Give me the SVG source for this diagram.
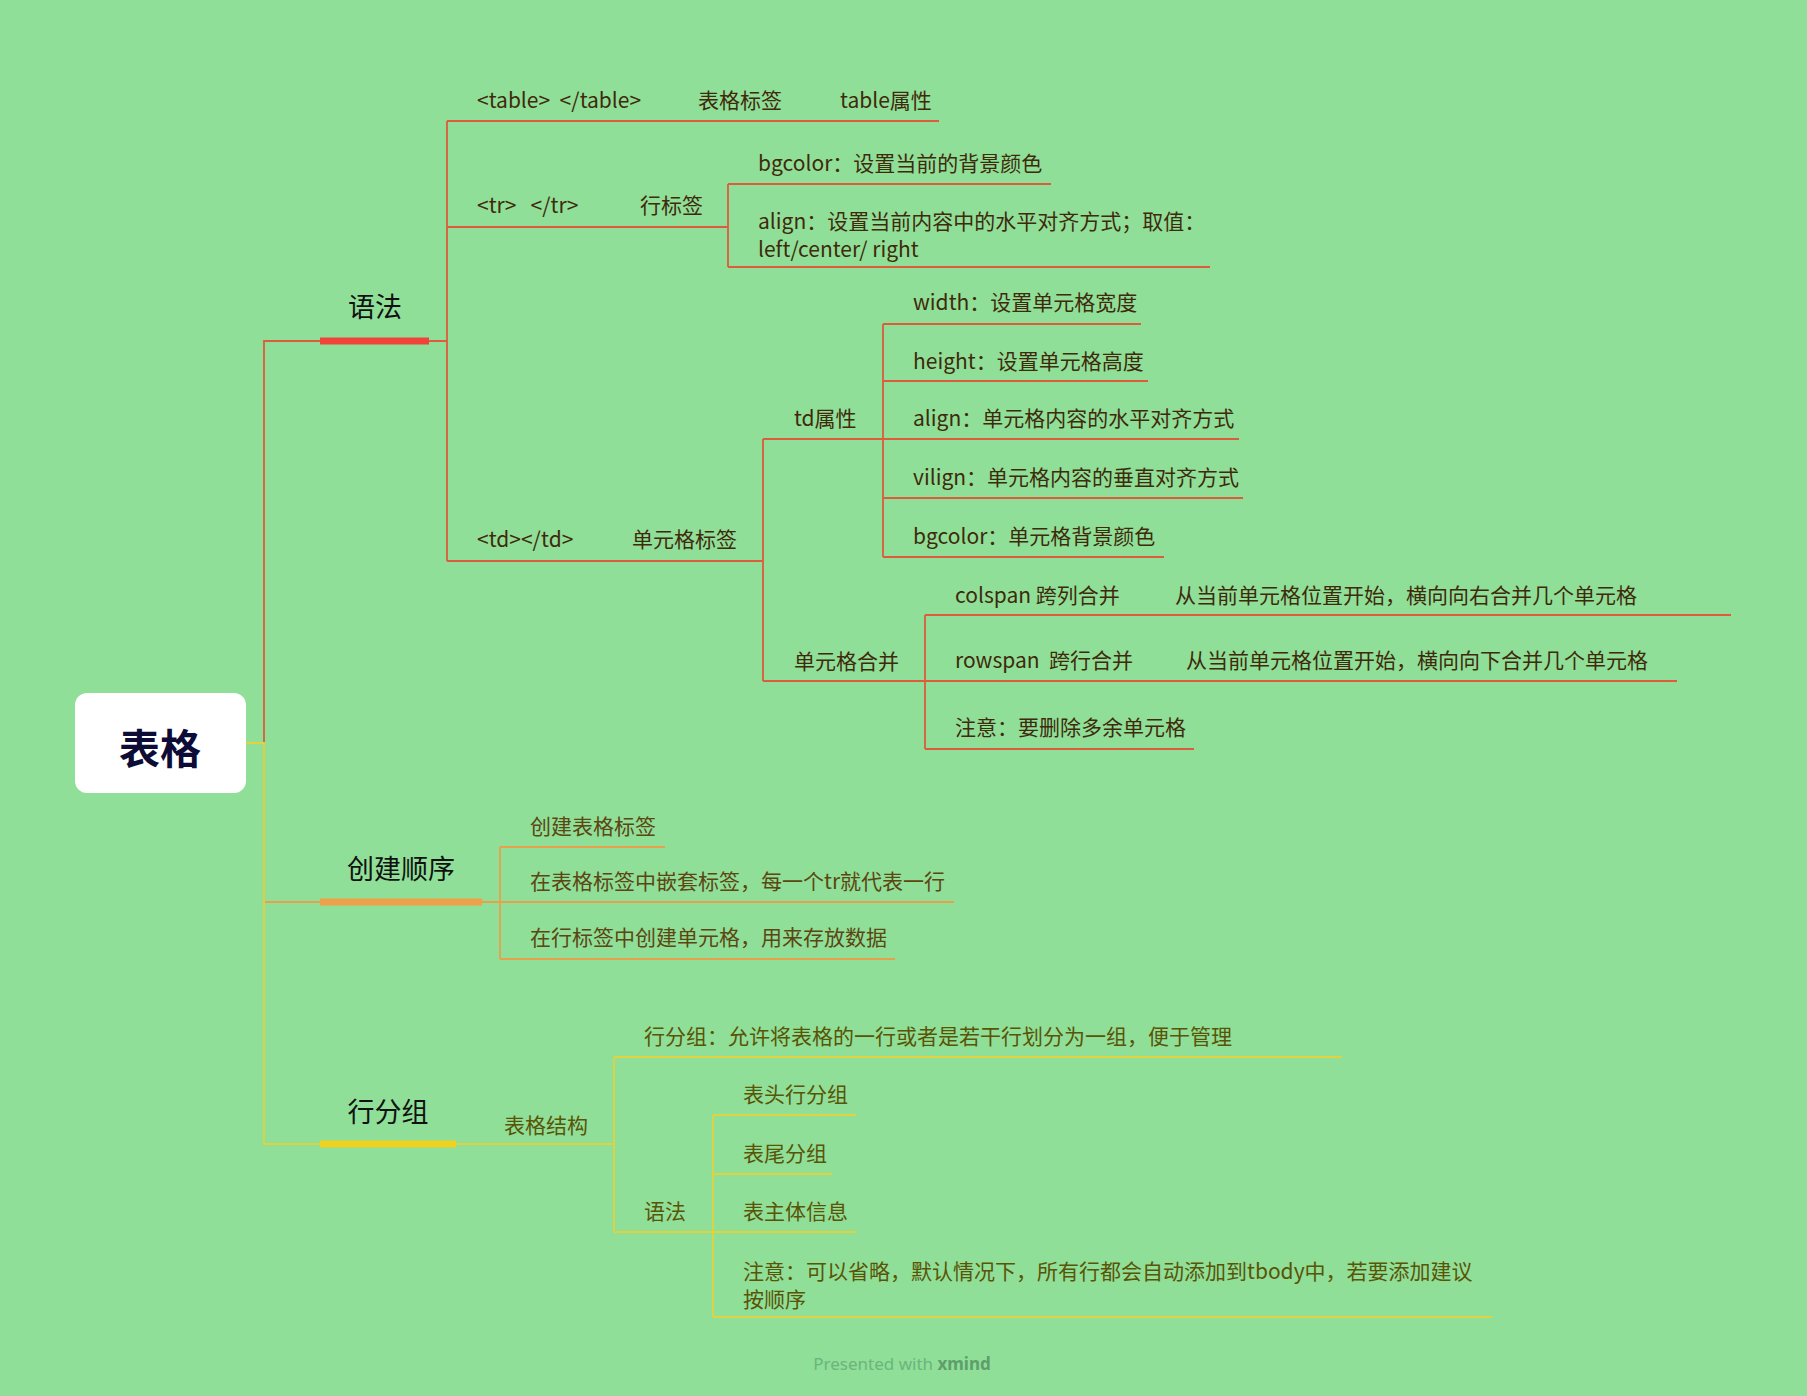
<svg xmlns="http://www.w3.org/2000/svg" width="1807" height="1396" viewBox="0 0 1807 1396">
<style>
text{font-family:"Noto Sans CJK SC","Noto Sans",sans-serif;dominant-baseline:central}
.t1{font-size:21px;fill:#3f2a0c}
.t2{font-size:21px;fill:#5c4612}
.t3{font-size:21px;fill:#5a5406}
.main{font-size:27px;fill:#111111;text-anchor:middle}
.r{stroke:#dd5c3c;stroke-width:1.8;fill:none}
.o{stroke:#e8a04c;stroke-width:1.8;fill:none}
.y{stroke:#e2d23e;stroke-width:1.8;fill:none}
</style>
<rect width="1807" height="1396" fill="#8fdf98"/>
<g id="connectors">
<path class="r" d="M245,743 H264 V341 H320 M429,341 H447 M447,121 V561"/>
<path class="o" d="M245,743 H264 V902 H320"/>
<path class="y" d="M245,743 H264 V1144 H320"/>
<path class="r" d="M447,121 H939 M447,227 H728 M728,184 V267 M728,184 H1051 M728,267 H1210"/>
<path class="r" d="M447,561 H763 M763,439 V681 M763,439 H883 M883,324 V557 M883,324 H1141 M883,381 H1148 M883,439 H1239 M883,498 H1243 M883,557 H1164"/>
<path class="r" d="M763,681 H925 M925,615 V749 M925,615 H1731 M925,681 H1677 M925,749 H1194"/>
<path class="o" d="M482,902 H500 M500,847 V959 M500,847 H665 M500,902 H954 M500,959 H895"/>
<path class="y" d="M456,1144 H614 M614,1057 V1232 M614,1057 H1342 M614,1232 H713 M713,1115 V1317 M713,1115 H856 M713,1174 H832 M713,1232 H856 M713,1317 H1492"/>
</g>
<g id="root">
<rect x="75" y="693" width="171" height="100" rx="12" fill="#ffffff"/>
<text x="160" y="746" style="font-size:41px;font-weight:bold;fill:#0d0c36;text-anchor:middle">表格</text>
</g>
<g id="n-yufa">
<text class="main" x="375" y="305">语法</text>
<rect x="320" y="337.5" width="109" height="7" fill="#f0443a"/>
</g>
<g id="n-table"><text class="t1" x="477" y="99" xml:space="preserve">&lt;table&gt;  &lt;/table&gt;</text></g>
<g id="n-table-tag"><text class="t1" x="698" y="99">表格标签</text></g>
<g id="n-table-attr"><text class="t1" x="840" y="99">table属性</text></g>
<g id="n-tr"><text class="t1" x="477" y="204" xml:space="preserve">&lt;tr&gt;   &lt;/tr&gt;</text></g>
<g id="n-tr-tag"><text class="t1" x="640" y="204">行标签</text></g>
<g id="n-tr-bg"><text class="t1" x="758" y="162">bgcolor：设置当前的背景颜色</text></g>
<g id="n-tr-align"><text class="t1" x="758" y="220">align：设置当前内容中的水平对齐方式；取值：<tspan x="758" dy="28">left/center/ right</tspan></text></g>
<g id="n-td"><text class="t1" x="477" y="538">&lt;td&gt;&lt;/td&gt;</text></g>
<g id="n-td-tag"><text class="t1" x="632" y="538">单元格标签</text></g>
<g id="n-td-attr"><text class="t1" x="794" y="417">td属性</text></g>
<g id="n-width"><text class="t1" x="913" y="301">width：设置单元格宽度</text></g>
<g id="n-height"><text class="t1" x="913" y="360">height：设置单元格高度</text></g>
<g id="n-align"><text class="t1" x="913" y="417">align：单元格内容的水平对齐方式</text></g>
<g id="n-vilign"><text class="t1" x="913" y="476">vilign：单元格内容的垂直对齐方式</text></g>
<g id="n-bgcolor"><text class="t1" x="913" y="535">bgcolor：单元格背景颜色</text></g>
<g id="n-merge"><text class="t1" x="794" y="660">单元格合并</text></g>
<g id="n-colspan"><text class="t1" x="955" y="594">colspan 跨列合并</text></g>
<g id="n-colspan-d"><text class="t1" x="1175" y="594">从当前单元格位置开始，横向向右合并几个单元格</text></g>
<g id="n-rowspan"><text class="t1" x="955" y="659" xml:space="preserve">rowspan  跨行合并</text></g>
<g id="n-rowspan-d"><text class="t1" x="1186" y="659">从当前单元格位置开始，横向向下合并几个单元格</text></g>
<g id="n-note1"><text class="t1" x="955" y="726">注意：要删除多余单元格</text></g>
<g id="n-order">
<text class="main" x="401" y="867">创建顺序</text>
<rect x="320" y="898.5" width="162" height="7" fill="#f0a048"/>
</g>
<g id="n-o1"><text class="t2" x="530" y="825">创建表格标签</text></g>
<g id="n-o2"><text class="t2" x="530" y="880">在表格标签中嵌套标签，每一个tr就代表一行</text></g>
<g id="n-o3"><text class="t2" x="530" y="936">在行标签中创建单元格，用来存放数据</text></g>
<g id="n-group">
<text class="main" x="388" y="1110">行分组</text>
<rect x="320" y="1140.5" width="136" height="7" fill="#f0d020"/>
</g>
<g id="n-struct"><text class="t3" x="504" y="1124">表格结构</text></g>
<g id="n-g1"><text class="t3" x="644" y="1035">行分组：允许将表格的一行或者是若干行划分为一组，便于管理</text></g>
<g id="n-gsyntax"><text class="t3" x="644" y="1210">语法</text></g>
<g id="n-thead"><text class="t3" x="743" y="1093">表头行分组</text></g>
<g id="n-tfoot"><text class="t3" x="743" y="1152">表尾分组</text></g>
<g id="n-tbody"><text class="t3" x="743" y="1210">表主体信息</text></g>
<g id="n-note2"><text class="t3" x="743" y="1270">注意：可以省略，默认情况下，所有行都会自动添加到tbody中，若要添加建议<tspan x="743" dy="27.5">按顺序</tspan></text></g>
<text x="902" y="1363" style="font-size:17px;fill:#6cb47c;text-anchor:middle;font-family:'Noto Sans',sans-serif">Presented with <tspan style="font-weight:bold;fill:#5e9e6c">xmind</tspan></text>
</svg>
